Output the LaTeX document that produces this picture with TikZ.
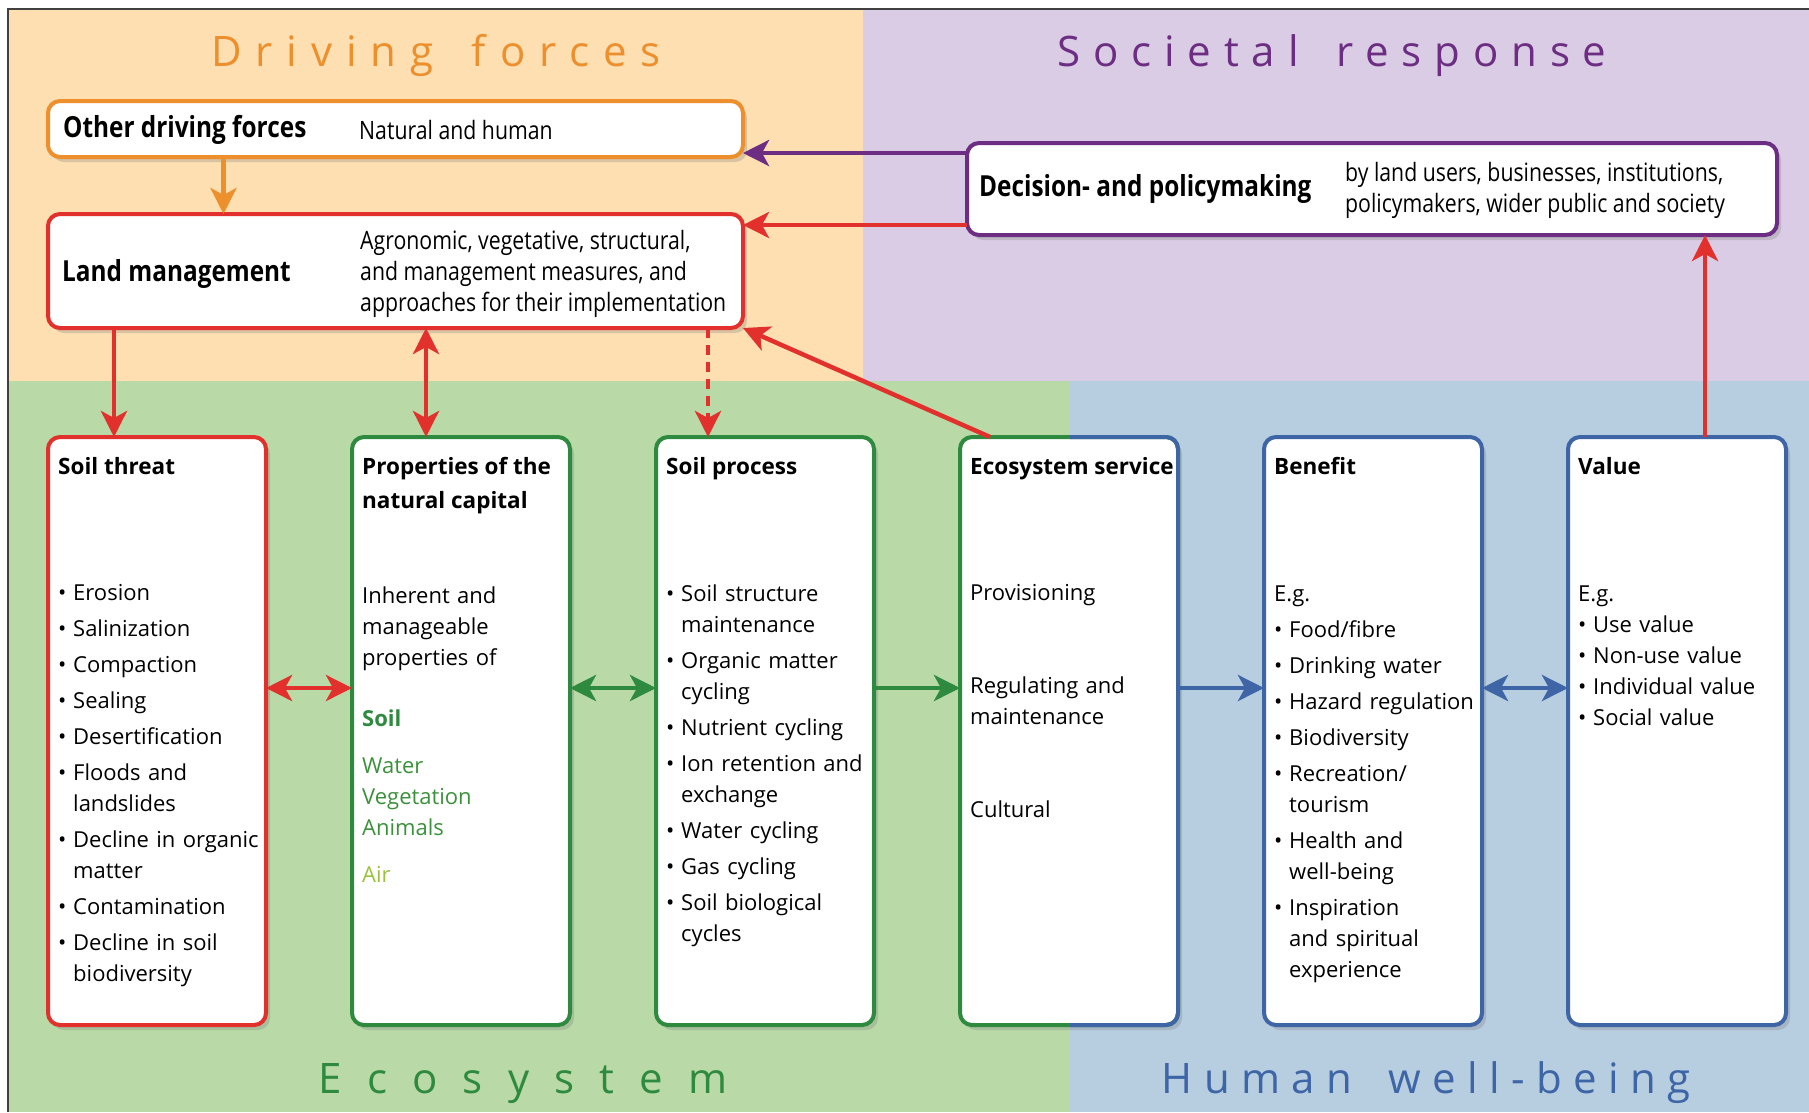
\documentclass[tikz,border=0pt]{standalone}
\usepackage{fontspec}
\setmainfont{Open Sans}
\newfontfamily\narrowfont[FakeStretch=0.84]{Open Sans}
\usetikzlibrary{arrows.meta,shadows}

\definecolor{bgorange}{HTML}{FDDFB2}
\definecolor{bgpurple}{HTML}{D9CCE4}
\definecolor{bggreen}{HTML}{B9D9A7}
\definecolor{bgblue}{HTML}{B7CDE0}
\definecolor{dforange}{HTML}{EC8F2C}
\definecolor{srpurple}{HTML}{6C2D82}
\definecolor{lmred}{HTML}{E2312D}
\definecolor{ecogreen}{HTML}{2E8A3E}
\definecolor{vegreen}{HTML}{3C913C}
\definecolor{airgreen}{HTML}{9CC13B}
\definecolor{hwblue}{HTML}{3E65A6}

% bullet items with hanging indent (first one opens no new paragraph)
\newcommand{\itmfirst}{\hangindent=15pt\hangafter=1\noindent\makebox[15pt][l]{\textbullet}}
\newcommand{\itm}{\par\itmfirst}

\begin{document}
\begin{tikzpicture}[x=1pt, y=-1pt]
\tikzstyle{bx}=[draw, line width=4pt, outer sep=0pt, rounded corners=12pt, fill=white, drop shadow={shadow xshift=4pt, shadow yshift=-5pt, opacity=0.3}]
\tikzstyle{col}=[bx, minimum width=218pt, minimum height=588pt]
\tikzstyle{hd}=[inner sep=0pt, anchor=north west, align=left, font=\bfseries\fontsize{22.5}{34}\selectfont]
\tikzstyle{txt}=[inner sep=0pt, anchor=north west, text width=210pt, align=left, font=\fontsize{22}{31}\selectfont]
\tikzstyle{lst}=[txt, execute at begin node=\setlength{\parskip}{5pt}]
\tikzstyle{toph}=[inner sep=0pt, anchor=west, font=\narrowfont\bfseries\fontsize{29}{31}\selectfont]
\tikzstyle{topt}=[inner sep=0pt, anchor=west, align=left, font=\narrowfont\fontsize{25.3}{31}\selectfont]
\tikzstyle{zone}=[inner sep=0pt, anchor=base]
\tikzstyle{arr}=[line width=4.5pt, -{Stealth[length=26pt, width=26pt, inset=7pt]}]
\tikzstyle{dbl}=[line width=4.5pt, {Stealth[length=26pt, width=26pt, inset=7pt]}-{Stealth[length=26pt, width=26pt, inset=7pt]}]

\useasboundingbox (0,0) rectangle (1809,1112);

% zones
\fill[white] (0,0) rectangle (1809,1112);
\fill[bgorange] (8,9) rectangle (863,381);
\fill[bgpurple] (863,9) rectangle (1809,381);
\fill[bggreen] (8,381) rectangle (1070,1112);
\fill[bgblue] (1070,381) rectangle (1809,1112);
\draw[black!75, line width=1.5pt] (8,1112) -- (8,9) -- (1809,9);

\node[zone, text=dforange, font={\fontsize{42}{46}\selectfont\addfontfeature{LetterSpace=33}}] (df) at (436,66) {Driving\hspace{14pt} forces};
\node[zone, text=srpurple, font={\fontsize{42}{46}\selectfont\addfontfeature{LetterSpace=30.5}}] (sr) at (1332,66) {Societal\hspace{14pt} response};
\node[zone, text=ecogreen, font={\fontsize{42}{46}\selectfont\addfontfeature{LetterSpace=60}}] (eco) at (523,1093) {Ecosystem};
\node[zone, text=hwblue, font={\fontsize{42}{46}\selectfont\addfontfeature{LetterSpace=27}}] (hw) at (1426,1093) {Human\hspace{14pt} well-being};

% top boxes
\node[bx, draw=dforange, minimum width=695pt, minimum height=56pt] (other) at (395.5,129) {};
\node[bx, draw=lmred, minimum width=695pt, minimum height=114pt] (land) at (395.5,271) {};
\node[bx, draw=srpurple, minimum width=810pt, minimum height=92pt] (dec) at (1372,189) {};

\node[toph] (other-h) at (63,130) {Other driving forces};
\node[topt] (other-d) at (359,130) {Natural and human};
\node[toph] (land-h) at (62,274) {Land management};
\node[topt] (land-d) at (360,274) {Agronomic, vegetative, structural,\\and management measures, and\\approaches for their implementation};
\node[toph] (dec-h) at (979,189) {Decision- and policymaking};
\node[topt] (dec-d) at (1345,190) {by land users, businesses, institutions,\\policymakers, wider public and society};

% columns
\node[col, draw=lmred] (threat) at (157,731) {};
\node[col, draw=ecogreen] (props) at (461,731) {};
\node[col, draw=ecogreen] (proc) at (765,731) {};
\node[col, draw=ecogreen] (serv) at (1069,731) {};
\node[col, draw=hwblue] (bene) at (1373,731) {};
\node[col, draw=hwblue] (valu) at (1677,731) {};
\begin{scope}
\clip (1070,381) rectangle (1809,1112);
\draw[hwblue, line width=4pt, rounded corners=12pt] (serv.south west) rectangle (serv.north east);
\end{scope}

\node[hd] (threat-h) at ([shift={(10pt,-20pt)}]threat.north west) {Soil threat};
\node[hd] (props-h) at ([shift={(10pt,-20pt)}]props.north west) {Properties of the\\natural capital};
\node[hd] (proc-h) at ([shift={(10pt,-20pt)}]proc.north west) {Soil process};
\node[hd] (serv-h) at ([shift={(10pt,-20pt)}]serv.north west) {Ecosystem service};
\node[hd] (bene-h) at ([shift={(10pt,-20pt)}]bene.north west) {Benefit};
\node[hd] (valu-h) at ([shift={(10pt,-20pt)}]valu.north west) {Value};

\node[lst] (threat-b) at ([shift={(10pt,-147pt)}]threat.north west) {\itmfirst Erosion \itm Salinization \itm Compaction \itm Sealing \itm Desertification \itm Floods and\newline landslides \itm Decline in organic\newline matter \itm Contamination \itm Decline in soil\newline biodiversity\par};
\node[txt] (props-b) at ([shift={(10pt,-150pt)}]props.north west) {Inherent and\\manageable\\properties of\\[30pt]{\color{ecogreen}\bfseries Soil}\\[16pt]{\color{vegreen}Water}\\{\color{vegreen}Vegetation}\\{\color{vegreen}Animals}\\[16pt]{\color{airgreen}Air}};
\node[lst] (proc-b) at ([shift={(10pt,-148pt)}]proc.north west) {\itmfirst Soil structure\newline maintenance \itm Organic matter\newline cycling \itm Nutrient cycling \itm Ion retention and\newline exchange \itm Water cycling \itm Gas cycling \itm Soil biological\newline cycles\par};
\node[txt] (serv-b) at ([shift={(10pt,-147pt)}]serv.north west) {Provisioning\\[62pt]Regulating and\\maintenance\\[62pt]Cultural};
\node[lst] (bene-b) at ([shift={(10pt,-149pt)}]bene.north west) {E.g. \itm Food/fibre \itm Drinking water \itm Hazard regulation \itm Biodiversity \itm Recreation/\newline tourism \itm Health and\newline well-being \itm Inspiration\newline and spiritual\newline experience\par};
\node[txt] (valu-b) at ([shift={(10pt,-149pt)}]valu.north west) {E.g. \itm Use value \itm Non-use value \itm Individual value \itm Social value\par};

% connectors
\draw[arr, dforange] ([xshift=-172pt]other.south) -- ([xshift=-172pt]land.north);
\draw[arr, srpurple] ([yshift=36pt]dec.west) -- ([yshift=36pt]dec.west -| other.east);
\draw[arr, lmred] ([yshift=-36pt]dec.west) -- ([yshift=-36pt]dec.west -| land.east);
\draw[arr, lmred] ([xshift=-43pt]threat.north |- land.south) -- ([xshift=-43pt]threat.north);
\draw[dbl, lmred] ([xshift=-35pt]props.north |- land.south) -- ([xshift=-35pt]props.north);
\draw[arr, lmred, dash pattern=on 10pt off 7pt] ([xshift=-57pt]proc.north |- land.south) -- ([xshift=-57pt]proc.north);
\draw[arr, lmred] ([xshift=30pt]serv.north west) -- (land.south east);
\draw[arr, lmred] ([xshift=28pt]valu.north) -- ([xshift=28pt]valu.north |- dec.south);
\draw[dbl, lmred] ([yshift=43pt]threat.east) -- ([yshift=43pt]props.west);
\draw[dbl, ecogreen] ([yshift=43pt]props.east) -- ([yshift=43pt]proc.west);
\draw[arr, ecogreen] ([yshift=43pt]proc.east) -- ([yshift=43pt]serv.west);
\draw[arr, hwblue] ([yshift=43pt]serv.east) -- ([yshift=43pt]bene.west);
\draw[dbl, hwblue] ([yshift=43pt]bene.east) -- ([yshift=43pt]valu.west);
\end{tikzpicture}
\end{document}
